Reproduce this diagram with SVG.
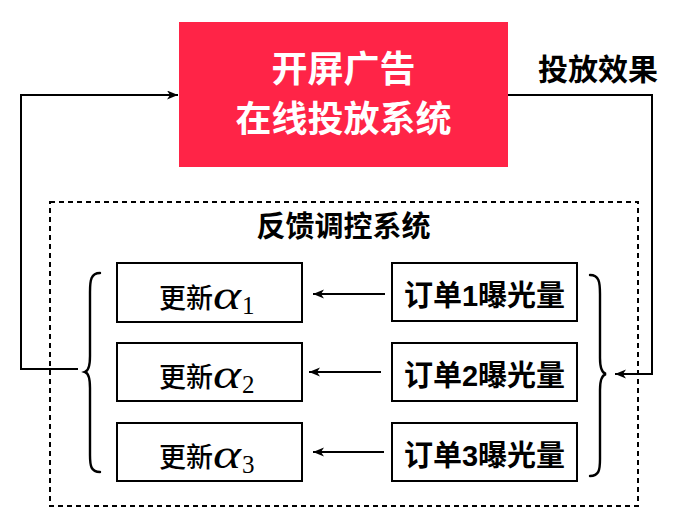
<svg xmlns="http://www.w3.org/2000/svg" width="688" height="524" viewBox="0 0 688 524">
<defs>
<style>
.box{fill:#fff;stroke:#000;stroke-width:2}
.ln{fill:none;stroke:#000;stroke-width:2}
.brace{fill:none;stroke:#000;stroke-width:2.4;stroke-linecap:round}
.cjkb{font-family:"Liberation Sans","Noto Sans CJK SC",sans-serif;font-weight:bold;fill:#000}
.cjk{font-family:"Noto Sans CJK SC",sans-serif;font-weight:500;font-size:27px;fill:#000}
.math{font-family:"Liberation Serif","DejaVu Serif",serif;font-style:italic;font-size:42px;fill:#000}
.sub{font-family:"Liberation Serif","DejaVu Serif",serif;font-size:25px;fill:#000}
</style>
<marker id="arr" markerUnits="userSpaceOnUse" markerWidth="12" markerHeight="10" refX="11" refY="4.5" orient="auto">
<path d="M0,0 L11,4.5 L0,9 L3,4.5 Z" fill="#000"/>
</marker>
</defs>
<rect width="688" height="524" fill="#fff"/>

<g id="connectors">
<path class="ln" d="M78,369 L21,369 L21,95 L178,95" marker-end="url(#arr)"/>
<path class="ln" d="M508,95 L652,95 L652,374 L615,374" marker-end="url(#arr)"/>
<line class="ln" x1="385" y1="294" x2="313" y2="294" marker-end="url(#arr)"/>
<line class="ln" x1="381" y1="372" x2="309" y2="372" marker-end="url(#arr)"/>
<line class="ln" x1="384" y1="452" x2="313" y2="452" marker-end="url(#arr)"/>
<path class="brace" d="M100,273 C91,273 90,280 90,292 L90,356 C90,366 88,371 85,372 C88,373 90,378 90,388 L90,455 C90,466 91,472 100,472"/>
<path class="brace" d="M590,275 C599,275 600,282 600,294 L600,358 C600,368 602,373 606,374 C602,375 600,380 600,390 L600,459 C600,470 599,476 590,476"/>
</g>

<g id="ad-system">
<rect x="179" y="22" width="329" height="145" fill="#ff2447"/>
<text class="cjkb" x="343.5" y="82" font-size="36" text-anchor="middle" style="fill:#fff">开屏广告</text>
<text class="cjkb" x="343.5" y="132" font-size="36" text-anchor="middle" style="fill:#fff">在线投放系统</text>
</g>

<g id="effect-label">
<text class="cjkb" x="598" y="80" font-size="30" text-anchor="middle">投放效果</text>
</g>

<g id="feedback-system">
<rect x="50" y="202" width="588" height="304" fill="none" stroke="#000" stroke-width="2" stroke-dasharray="5 4"/>
<text class="cjkb" x="343.5" y="237" font-size="29" text-anchor="middle">反馈调控系统</text>
</g>

<g id="update1">
<rect class="box" x="117" y="263" width="185" height="59"/>
<text class="cjk" x="159" y="308">更新</text>
<text class="math" x="213" y="309" textLength="28" lengthAdjust="spacingAndGlyphs">α</text>
<text class="sub" x="242" y="314">1</text>
</g>
<g id="update2">
<rect class="box" x="117" y="343" width="185" height="58"/>
<text class="cjk" x="159" y="387">更新</text>
<text class="math" x="213" y="388" textLength="28" lengthAdjust="spacingAndGlyphs">α</text>
<text class="sub" x="242" y="393">2</text>
</g>
<g id="update3">
<rect class="box" x="117" y="423" width="185" height="58"/>
<text class="cjk" x="159" y="467">更新</text>
<text class="math" x="213" y="468" textLength="28" lengthAdjust="spacingAndGlyphs">α</text>
<text class="sub" x="242" y="473">3</text>
</g>

<g id="order1">
<rect class="box" x="392" y="263" width="185" height="58"/>
<text class="cjkb" x="484.5" y="306" font-size="29" text-anchor="middle">订单1曝光量</text>
</g>
<g id="order2">
<rect class="box" x="392" y="343" width="185" height="58"/>
<text class="cjkb" x="484.5" y="386" font-size="29" text-anchor="middle">订单2曝光量</text>
</g>
<g id="order3">
<rect class="box" x="392" y="423" width="185" height="58"/>
<text class="cjkb" x="484.5" y="466" font-size="29" text-anchor="middle">订单3曝光量</text>
</g>
</svg>
